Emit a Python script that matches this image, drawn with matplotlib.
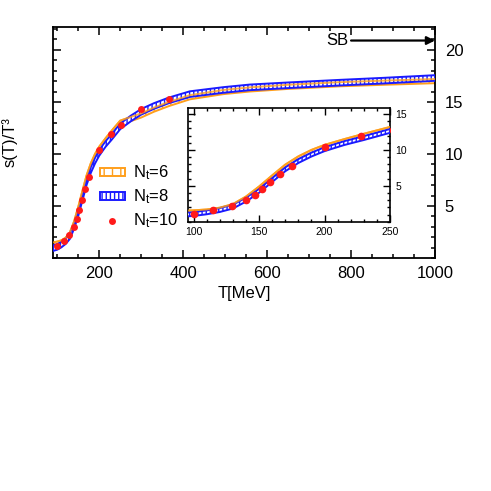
import numpy as np
import matplotlib
matplotlib.use("Agg")
import matplotlib.pyplot as plt
from matplotlib.ticker import MultipleLocator
from matplotlib.lines import Line2D

plt.rcParams['font.family'] = ['Liberation Sans', 'DejaVu Sans']
plt.rcParams['mathtext.default'] = 'regular'
plt.rcParams['hatch.linewidth'] = 1.0

# lattice bands
T_band = [90, 100, 110, 120, 130, 140, 150, 160, 170, 180, 190, 200, 215, 230,
          250, 275, 300, 330, 366, 416, 496, 559, 650, 773, 880, 1000]
s_nt8 = [0.95, 1.07, 1.3, 1.62, 2.1, 3.07, 4.3, 5.8, 7.3, 8.45, 9.35, 10.1, 10.95, 11.65,
         12.65, 13.4, 14.05, 14.6, 15.15, 15.75, 16.15, 16.4, 16.6, 16.85, 17.05, 17.3]
s_nt6 = [1.3, 1.38, 1.5, 1.75, 2.25, 3.3, 4.7, 6.25, 7.75, 8.9, 9.8, 10.5, 11.3, 12.05,
         13.0, 13.35, 13.7, 14.25, 14.8, 15.45, 15.95, 16.2, 16.45, 16.7, 16.85, 17.0]
err_nt8 = 0.27
err_nt6 = 0.2

# N_t = 10 points
T_nt10 = [100, 115, 129, 140, 147, 152, 158, 166, 175, 200, 228, 252, 299, 366]
s_nt10 = [1.13, 1.63, 2.25, 3.0, 3.77, 4.6, 5.58, 6.65, 7.77, 10.34, 11.9, 12.8, 14.33, 15.29]

orange = '#ff9f1c'
blue = '#1a1aff'
red = '#ff1a1a'

s8 = np.array(s_nt8)
s6 = np.array(s_nt6)


def draw(ax, lw, ms):
    b6 = ax.fill_between(T_band, s6 - err_nt6, s6 + err_nt6, facecolor='white',
                         edgecolor=orange, hatch='||', linewidth=lw, zorder=2)
    b8 = ax.fill_between(T_band, s8 - err_nt8, s8 + err_nt8, facecolor='white',
                         edgecolor=blue, hatch='||||', linewidth=lw, zorder=3)
    ax.plot(T_band, s6 + err_nt6, color=orange, lw=lw, zorder=4, alpha=0.8)
    ax.plot(T_nt10, s_nt10, 'o', color=red, ms=ms, mec='none', zorder=5)
    return b6, b8


fig = plt.figure(figsize=(4.91, 4.91), dpi=100)
ax = fig.add_axes([0.108, 0.4745, 0.778, 0.4705])
b6, b8 = draw(ax, 1.4, 5)
ax.set_xlim(90, 1000)
ax.set_ylim(0, 22.2)
ax.xaxis.set_major_locator(MultipleLocator(200))
ax.xaxis.set_minor_locator(MultipleLocator(50))
ax.yaxis.set_major_locator(MultipleLocator(5))
ax.yaxis.set_minor_locator(MultipleLocator(1))
ax.set_yticks([5, 10, 15, 20])
ax.tick_params(which='both', direction='in', top=True, right=True, left=True,
               labelleft=False, labelright=True, width=1.1)
ax.tick_params(which='major', length=6)
ax.tick_params(which='minor', length=3)
ax.tick_params(axis='x', pad=6, labelsize=12)
ax.tick_params(axis='y', pad=7, labelsize=12)
for sp in ax.spines.values():
    sp.set_linewidth(1.3)
ax.set_xlabel('T[MeV]', fontsize=12, labelpad=3)
ax.set_ylabel('s(T)/T³', fontsize=12)
ax.yaxis.set_label_coords(-0.094, 0.5)

ax.annotate('', xy=(1000, 20.9), xytext=(800, 20.9),
            arrowprops=dict(arrowstyle='-|>', color='black', lw=1.6,
                            mutation_scale=12, shrinkA=0, shrinkB=0))
ax.text(793, 20.9, 'SB', ha='right', va='center', fontsize=12)

handles = [b6, b8, Line2D([], [], ls='none', marker='o', color=red, ms=5, mec='none')]
ax.legend(handles, ['N$_t$=6', 'N$_t$=8', 'N$_t$=10'], loc='upper left',
          bbox_to_anchor=(0.1, 0.445), frameon=False, fontsize=12,
          borderpad=0, handlelength=1.5, handleheight=0.35, handletextpad=0.5,
          labelspacing=0.32)

# inset
ins = fig.add_axes([0.3835, 0.5485, 0.411, 0.231])
draw(ins, 1.4, 5.5)
ins.set_xlim(96, 250)
ins.set_ylim(0, 15.8)
ins.xaxis.set_major_locator(MultipleLocator(50))
ins.xaxis.set_minor_locator(MultipleLocator(10))
ins.set_yticks([5, 10, 15])
ins.yaxis.set_minor_locator(MultipleLocator(1))
ins.tick_params(which='both', direction='in', top=True, right=True, left=True,
                labelleft=False, labelright=True, width=1.0, labelsize=7.5)
ins.tick_params(which='major', length=5)
ins.tick_params(which='minor', length=2.5)
ins.tick_params(axis='x', pad=4)
ins.tick_params(axis='y', pad=4)
for sp in ins.spines.values():
    sp.set_linewidth(1.2)

fig.savefig('out.png', dpi=100)
